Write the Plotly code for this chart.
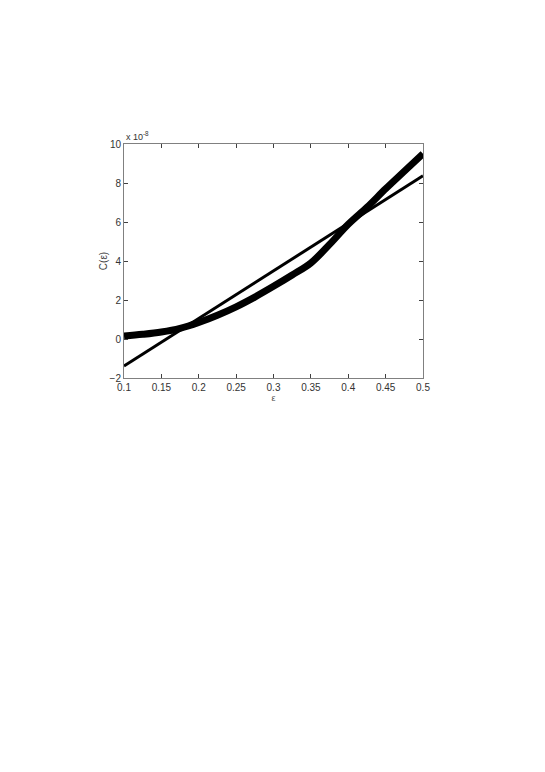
import plotly.graph_objects as go

# curve C(eps), values in units of 1e-8
eps = [0.1, 0.125, 0.15, 0.175, 0.2, 0.225, 0.25, 0.275, 0.3,
       0.325, 0.35, 0.375, 0.4, 0.425, 0.45, 0.475, 0.5]
c_eps = [0.15, 0.24, 0.36, 0.55, 0.85, 1.22, 1.65, 2.15, 2.7,
         3.28, 3.9, 4.85, 5.88, 6.75, 7.7, 8.6, 9.5]

# straight-line fit
fit_eps = [0.1, 0.5]
fit_c = [-1.38, 8.37]

x_ticks = [0.1, 0.15, 0.2, 0.25, 0.3, 0.35, 0.4, 0.45, 0.5]
y_ticks = [-2, 0, 2, 4, 6, 8, 10]

fig = go.Figure()
fig.add_trace(go.Scatter(x=eps, y=c_eps, mode="lines",
                         line=dict(color="black", width=7, shape="spline",
                                   smoothing=1),
                         showlegend=False))
fig.add_trace(go.Scatter(x=fit_eps, y=fit_c, mode="lines",
                         line=dict(color="black", width=3),
                         showlegend=False))

axis_style = dict(
    showgrid=False, zeroline=False, showline=True, mirror="ticks",
    linecolor="#808080", linewidth=1, ticks="inside", ticklen=4,
    tickcolor="#404040", tickfont=dict(family="Arial", size=10, color="#333"),
)

fig.update_xaxes(range=[0.1, 0.5], tickvals=x_ticks,
                 ticktext=[f"{v:g}" for v in x_ticks],
                 title=dict(text="ε", font=dict(family="Arial", size=9, color="#555"),
                            standoff=2),
                 **axis_style)
fig.update_yaxes(range=[-2, 10], tickvals=y_ticks,
                 title=dict(text="C(ε)", font=dict(family="Arial", size=10, color="#444"),
                            standoff=0),
                 **axis_style)

fig.add_annotation(x=0, y=1, xref="paper", yref="paper", xanchor="left",
                   yanchor="bottom", showarrow=False,
                   text="x 10<sup>-8</sup>",
                   font=dict(family="Arial", size=9, color="#333"))

fig.update_layout(
    width=545, height=772,
    margin=dict(l=116, r=130, t=136, b=402),
    paper_bgcolor="white", plot_bgcolor="white",
)

fig.write_html("out.html")
